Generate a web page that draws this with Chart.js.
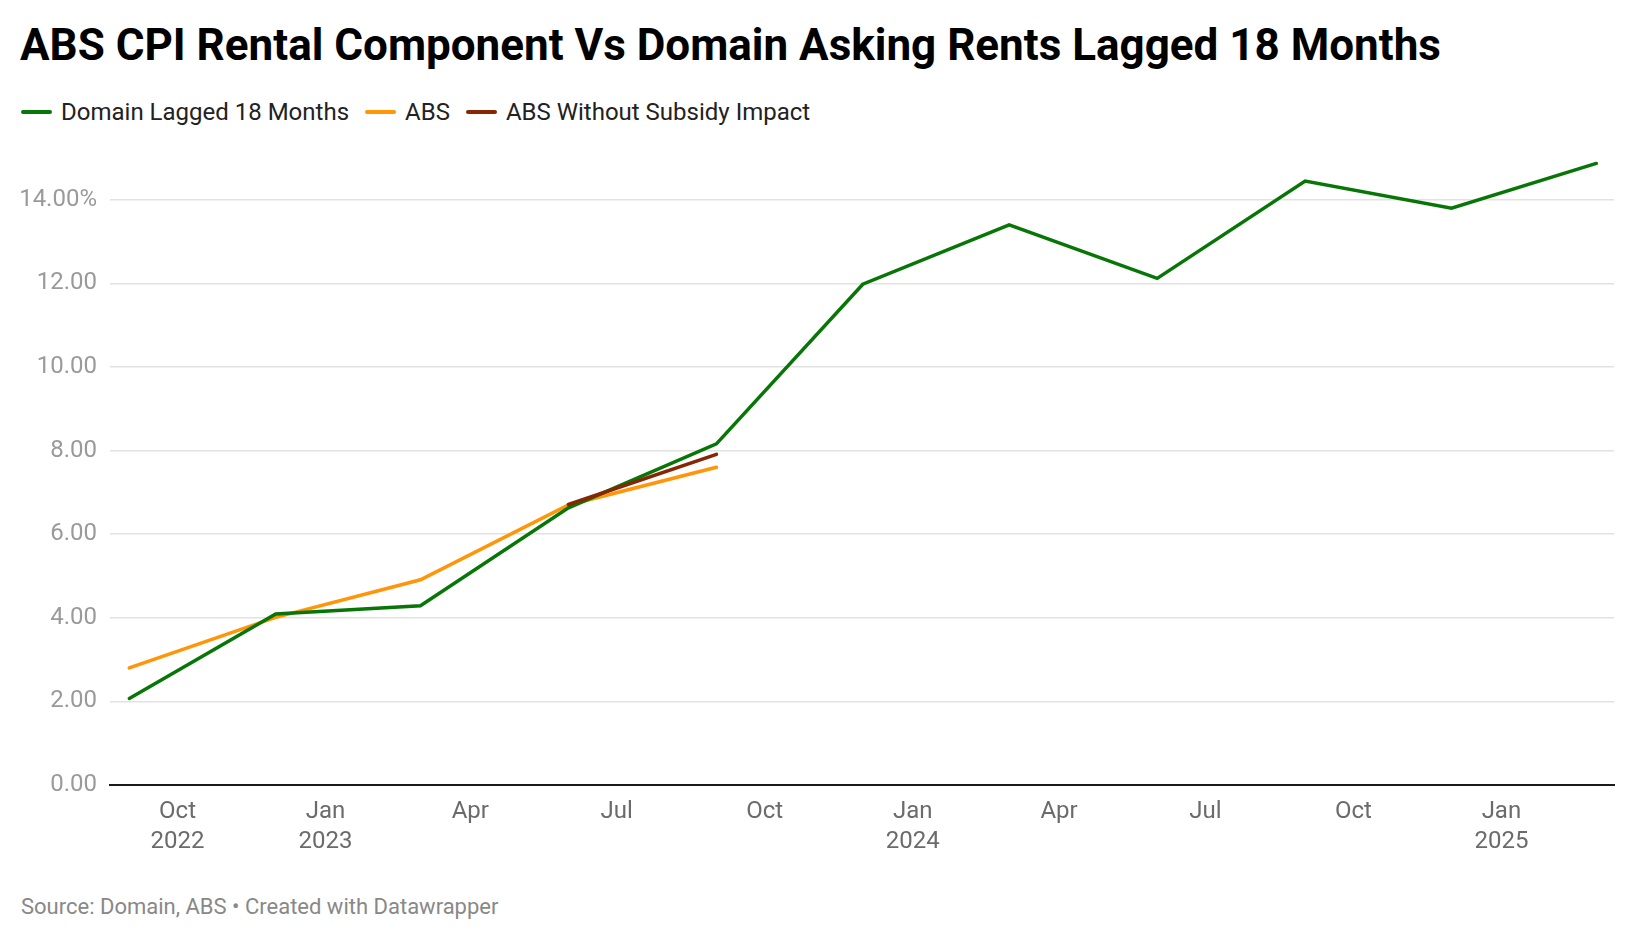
<!DOCTYPE html>
<html>
<head>
<meta charset="utf-8">
<script src="https://cdn.jsdelivr.net/npm/chart.js@4/dist/chart.umd.min.js"></script>
<style>
  html, body { margin: 0; padding: 0; background: #fff; }
  body { width: 1640px; height: 940px; position: relative; overflow: hidden; font-family: Roboto, "Noto Sans", sans-serif; }
  #title { position: absolute; left: 20px; top: 20px; font-size: 44px; font-weight: 700; color: #000; line-height: 50px; white-space: nowrap; }
  #legend { position: absolute; left: 21px; top: 97px; height: 30px; display: flex; align-items: center; font-size: 24px; color: #222; white-space: nowrap; }
  .item { display: flex; align-items: center; margin-right: 16px; }
  .swatch { width: 31px; height: 4px; border-radius: 2px; margin-right: 9px; }
  #source { position: absolute; left: 21px; top: 894px; font-size: 22px; color: #888; white-space: nowrap; line-height: 26px; }
  #wrap { position: absolute; left: 0; top: 130px; width: 1640px; height: 760px; }
</style>
</head>
<body>
<div id="title">ABS CPI Rental Component Vs Domain Asking Rents Lagged 18 Months</div>
<div id="legend"></div>
<div id="wrap"><canvas id="c"></canvas></div>
<div id="source">Source: Domain, ABS • Created with Datawrapper</div>
<script>
// ---- data ----
const domainDates = ["2022-09-01","2022-12-01","2023-03-01","2023-06-01","2023-09-01","2023-12-01","2024-03-01","2024-06-01","2024-09-01","2024-12-01","2025-03-01"];
const domainValues = [2.07, 4.09, 4.29, 6.63, 8.16, 11.98, 13.4, 12.12, 14.45, 13.8, 14.87];
const absDates = ["2022-09-01","2022-12-01","2023-03-01","2023-06-01","2023-09-01"];
const absValues = [2.8, 4.01, 4.91, 6.7, 7.6];
const absNoSubDates = ["2023-06-01","2023-09-01"];
const absNoSubValues = [6.71, 7.91];
const seriesNames = ["Domain Lagged 18 Months", "ABS", "ABS Without Subsidy Impact"];
const seriesColors = ["#077607", "#ff9507", "#862604"];
const xTickDates = ["2022-10-01","2023-01-01","2023-04-01","2023-07-01","2023-10-01","2024-01-01","2024-04-01","2024-07-01","2024-10-01","2025-01-01"];
const xTickLabels = [["Oct","2022"],["Jan","2023"],"Apr","Jul","Oct",["Jan","2024"],"Apr","Jul","Oct",["Jan","2025"]];
const yTickValues = [0, 2, 4, 6, 8, 10, 12, 14];

const t = s => Date.parse(s);
const pts = (d, v) => d.map((s, i) => ({ x: t(s), y: v[i] }));
const DAY = 86400000;

// legend
const legend = document.getElementById('legend');
seriesNames.forEach((n, i) => {
  const it = document.createElement('div'); it.className = 'item';
  const sw = document.createElement('div'); sw.className = 'swatch'; sw.style.background = seriesColors[i];
  const tx = document.createElement('span'); tx.textContent = n;
  it.appendChild(sw); it.appendChild(tx); legend.appendChild(it);
});

const tickFont = { family: 'Roboto', size: 24, lineHeight: 1.25 };

new Chart(document.getElementById('c'), {
  type: 'line',
  data: {
    datasets: [
      { label: seriesNames[0], data: pts(domainDates, domainValues), borderColor: seriesColors[0], order: 1 },
      { label: seriesNames[1], data: pts(absDates, absValues), borderColor: seriesColors[1], order: 2 },
      { label: seriesNames[2], data: pts(absNoSubDates, absNoSubValues), borderColor: seriesColors[2], order: 0 }
    ]
  },
  options: {
    responsive: true,
    maintainAspectRatio: false,
    animation: false,
    layout: { padding: { top: 23, right: 26, left: 0, bottom: 0 } },
    elements: {
      line: { borderWidth: 3.5, tension: 0, borderCapStyle: 'round', borderJoinStyle: 'miter', fill: false },
      point: { radius: 0, hoverRadius: 0 }
    },
    plugins: { legend: { display: false }, tooltip: { enabled: false }, title: { display: false } },
    scales: {
      x: {
        type: 'linear',
        min: t(domainDates[0]) - 12 * DAY,
        max: t(domainDates[domainDates.length - 1]) + 11 * DAY,
        afterBuildTicks: (s) => { s.ticks = xTickDates.map(d => ({ value: t(d) })); },
        afterFit: (s) => { s.height = 105; },
        grid: { display: false, drawTicks: false },
        border: { display: true, color: '#1a1a1a', width: 2 },
        ticks: {
          autoSkip: false, maxRotation: 0, padding: 12, color: '#6b6b6b', font: tickFont,
          callback: (v, i) => xTickLabels[i]
        }
      },
      y: {
        min: 0, max: 15,
        afterBuildTicks: (s) => { s.ticks = yTickValues.map(v => ({ value: v })); },
        afterFit: (s) => { s.width = 110; },
        grid: { color: '#e2e2e2', lineWidth: 1.5, drawTicks: false },
        border: { display: false },
        ticks: {
          padding: 13, color: '#9a9a9a', font: tickFont,
          callback: (v) => v === 14 ? v.toFixed(2) + '%' : v.toFixed(2)
        }
      }
    }
  }
});
</script>
</body>
</html>
